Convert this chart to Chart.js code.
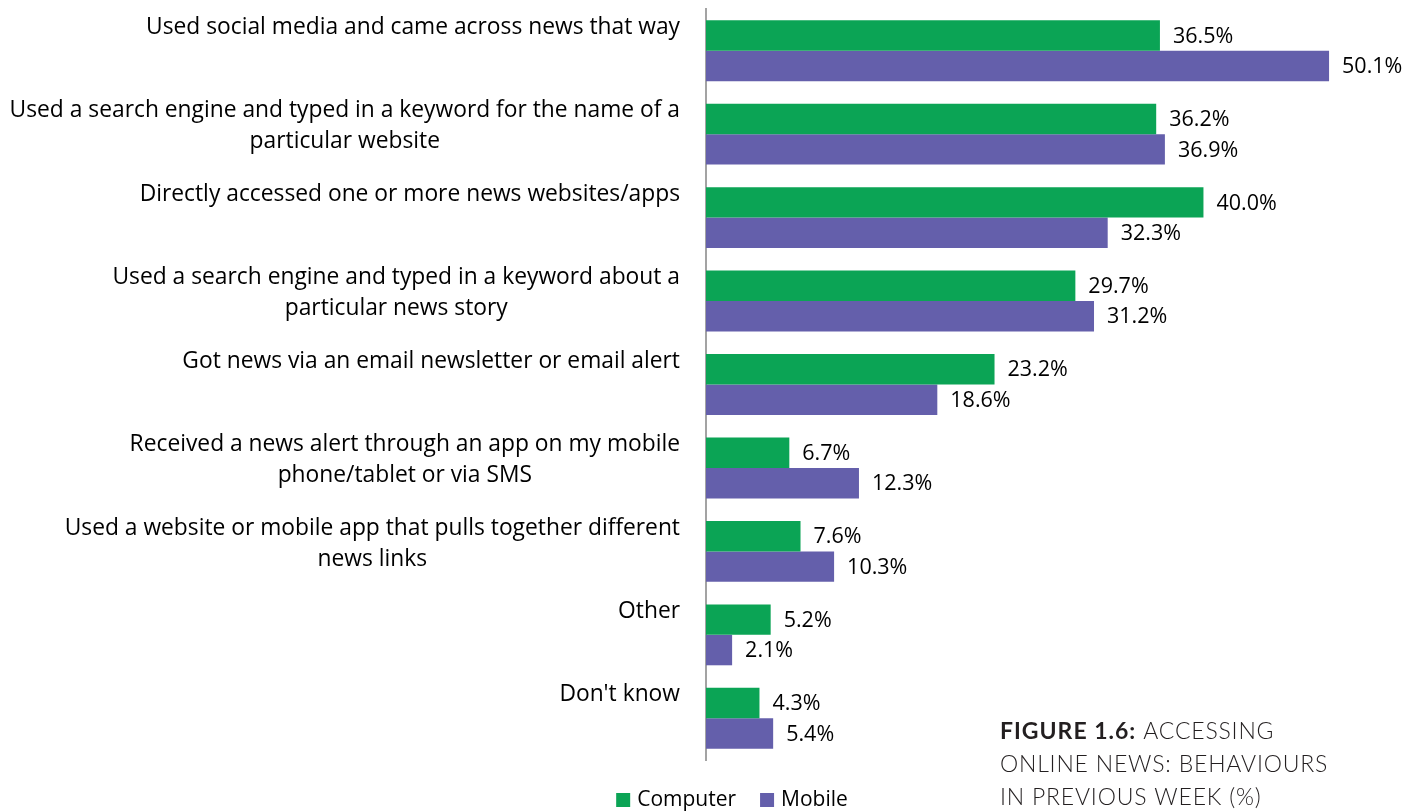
<!DOCTYPE html>
<html>
<head>
<meta charset="utf-8">
<script src="https://cdn.jsdelivr.net/npm/chart.js@4/dist/chart.umd.min.js"></script>
<style>
  html, body { margin: 0; padding: 0; background: #ffffff; }
  #wrap { position: relative; width: 1408px; height: 811px; }
</style>
</head>
<body>
<div id="wrap"><canvas id="chart" width="1408" height="811"></canvas></div>
<script>
// Category labels, one entry per line of the wrapped label
const categories = [
  ["Used social media and came across news that way"],
  ["Used a search engine and typed in a keyword for the name of a", "particular website"],
  ["Directly accessed one or more news websites/apps"],
  ["Used a search engine and typed in a keyword about a", "particular news story"],
  ["Got news via an email newsletter or email alert"],
  ["Received a news alert through an app on my mobile", "phone/tablet or via SMS"],
  ["Used a website or mobile app that pulls together different", "news links"],
  ["Other"],
  ["Don't know"]
];
const seriesNames = ["Computer", "Mobile"];
const computerValues = [36.5, 36.2, 40.0, 29.7, 23.2, 6.7, 7.6, 5.2, 4.3];
const mobileValues = [50.1, 36.9, 32.3, 31.2, 18.6, 12.3, 10.3, 2.1, 5.4];
const titleBold = "FIGURE 1.6:";
const titleLines = [" ACCESSING", "ONLINE NEWS: BEHAVIOURS", "IN PREVIOUS WEEK (%)"];

const GREEN = "#0ba455";
const PURPLE = "#645fab";
const FONT = "'Open Sans', Lato, sans-serif";
const TITLE_FONT = "Lato, 'Open Sans', sans-serif";

// Wrapped category labels, right-aligned block with centred lines
const categoryLabelPlugin = {
  id: "categoryLabels",
  afterDraw(chart) {
    const ctx = chart.ctx;
    const yScale = chart.scales.y;
    const step = yScale.getPixelForValue(1) - yScale.getPixelForValue(0);
    const right = chart.chartArea.left - 26;
    ctx.save();
    ctx.font = "22.8px " + FONT;
    ctx.fillStyle = "#000000";
    ctx.textBaseline = "middle";
    ctx.textAlign = "center";
    categories.forEach((lines, i) => {
      const center = yScale.getPixelForValue(i);
      const blockW = Math.max(...lines.map(l => ctx.measureText(l).width));
      const cx = right - blockW / 2;
      const firstY = center - step * 0.28;
      lines.forEach((line, j) => ctx.fillText(line, cx, firstY + j * 31));
    });
    ctx.restore();
  }
};

// Value labels at the end of each bar
const valueLabelPlugin = {
  id: "valueLabels",
  afterDatasetsDraw(chart) {
    const ctx = chart.ctx;
    ctx.save();
    ctx.font = "21.5px " + FONT;
    ctx.fillStyle = "#000000";
    ctx.textBaseline = "middle";
    ctx.textAlign = "left";
    chart.data.datasets.forEach((ds, di) => {
      const meta = chart.getDatasetMeta(di);
      meta.data.forEach((bar, i) => {
        ctx.fillText(ds.data[i].toFixed(1) + "%", bar.x + 13, bar.y + 1);
      });
    });
    ctx.restore();
  }
};

// Legend below the plot and figure caption at the bottom right
const footerPlugin = {
  id: "footer",
  afterDraw(chart) {
    const ctx = chart.ctx;
    ctx.save();
    ctx.font = "21px " + FONT;
    ctx.textBaseline = "middle";
    const box = 14, gap = 7, spacing = 24;
    const widths = chart.data.datasets.map(d => ctx.measureText(d.label).width);
    const total = widths.reduce((s, w) => s + box + gap + w, 0) + spacing * (widths.length - 1);
    let x = 732 - total / 2;
    const cy = 800;
    chart.data.datasets.forEach((d, i) => {
      ctx.fillStyle = d.backgroundColor;
      ctx.fillRect(x, cy - box / 2, box, box);
      x += box + gap;
      ctx.fillStyle = "#000000";
      ctx.textAlign = "left";
      ctx.fillText(d.label, x, cy);
      x += widths[i] + spacing;
    });

    ctx.fillStyle = "#231f20";
    ctx.textBaseline = "alphabetic";
    const tx = 1000;
    ctx.font = "bold 23px " + TITLE_FONT;
    ctx.letterSpacing = "1px";
    ctx.fillText(titleBold, tx, 739);
    const bw = ctx.measureText(titleBold).width;
    ctx.font = "300 23px " + TITLE_FONT;
    ctx.letterSpacing = "0.8px";
    ctx.fillText(titleLines[0], tx + bw, 739);
    ctx.fillText(titleLines[1], tx, 772);
    ctx.fillText(titleLines[2], tx, 805);
    ctx.restore();
  }
};

new Chart(document.getElementById("chart"), {
  type: "bar",
  data: {
    labels: categories,
    datasets: [
      { label: seriesNames[0], data: computerValues, backgroundColor: GREEN },
      { label: seriesNames[1], data: mobileValues, backgroundColor: PURPLE }
    ]
  },
  options: {
    indexAxis: "y",
    responsive: false,
    animation: false,
    events: [],
    layout: { padding: { left: 0, right: 18, top: 9, bottom: 51 } },
    datasets: {
      bar: { categoryPercentage: 0.73, barPercentage: 1.0, borderWidth: 0 }
    },
    scales: {
      x: {
        display: false,
        min: 0,
        max: 55
      },
      y: {
        grid: { display: false },
        border: { display: true, color: "#a3a3a3", width: 2 },
        ticks: { display: false },
        afterFit(scale) { scale.width = 706; }
      }
    },
    plugins: {
      legend: { display: false },
      tooltip: { enabled: false }
    }
  },
  plugins: [categoryLabelPlugin, valueLabelPlugin, footerPlugin]
});
</script>
</body>
</html>
